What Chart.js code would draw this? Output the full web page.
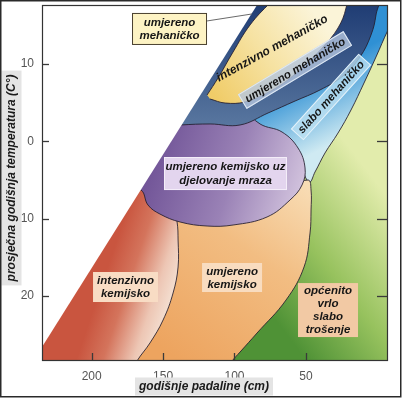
<!DOCTYPE html>
<html><head><meta charset="utf-8">
<script src="https://cdn.jsdelivr.net/npm/chart.js@4/dist/chart.umd.min.js"></script>
<style>html,body{margin:0;padding:0;background:#fff;overflow:hidden}canvas{display:block}</style>
</head><body>
<canvas id="c" width="402" height="398"></canvas>
<script>
const FONT='"Liberation Sans", Arial, Helvetica, sans-serif';
// axes
const X_TICKS=[200,150,100,50];
const Y_TICKS=[-10,0,10,20];
const X_MIN=-7.5, X_MAX=234.8, Y_MIN=-17.63, Y_MAX=28.42;
const X_TITLE='godišnje padaline (cm)';
const Y_TITLE='prosječna godišnja temperatura (C°)';
// regions: [precipitation cm, temperature °C]
const VRLO_SLABO=[[-20,-22],[250,-22],[250,35],[-20,35]];
const SLABO_MEH=[[-15.9,-19.57],[-12.4,-16.08],[-7.5,-14.40],[0.9,-10.91],[9.3,-7.54],[18.4,-4.05],[27.5,-1.07],[36.6,1.51],[43.6,3.97],[47.8,5.27],[57.6,2.42],[124.1,-2.76],[110.1,-19.57]];
const UMJ_KEM=[[105.9,29.59],[101.7,28.42],[96.1,27.26],[84.2,24.80],[63.9,20.53],[51.3,16.26],[47.1,11.86],[46.4,8.89],[46.4,6.30],[48.5,5.01],[68.1,6.30],[180.2,7.59],[264.2,33.47],[180.2,33.47]];
const INT_KEM=[[173.2,30.23],[168.3,28.42],[159.2,26.09],[150.0,23.12],[143.0,19.62],[139.5,16.26],[139.5,12.77],[140.2,10.44],[143.7,7.59],[180.2,5.01],[264.2,30.88]];
const MRAZ=[[180.2,5.65],[165.5,6.30],[160.6,8.24],[152.2,9.41],[138.1,10.44],[119.2,10.96],[101.0,10.83],[77.2,9.79],[61.1,7.59],[52.7,5.65],[50.6,3.45],[55.5,0.87],[66.7,-1.20],[82.1,-2.24],[103.1,-5.34],[159.2,-5.34]];
const UMJ_MEH=[[152.2,-1.85],[137.4,-2.11],[117.1,-2.24],[96.1,-2.11],[76.5,-3.66],[57.6,-5.21],[40.1,-6.64],[24.0,-8.45],[12.1,-10.91],[4.4,-13.75],[0.9,-16.34],[-0.5,-19.57],[124.1,-20.87]];
const INT_MEH=[[117.1,-5.47],[106.6,-4.95],[92.6,-5.08],[78.6,-6.12],[64.6,-7.67],[50.6,-9.87],[38.0,-12.20],[27.5,-14.66],[21.9,-17.25],[21.2,-19.57],[64.6,-19.57],[75.1,-17.89],[89.1,-15.05],[101.0,-11.55],[111.5,-8.19],[119.2,-5.99]];
const OUTSIDE=[[78,-19.45],[245,29.59],[245,-19.45]];

// label annotations (style config)
const NOTES=[
 {text:['umjereno','mehaničko'],at:[145.5,-14.53],box:{w:75,h:32,fill:'#fdf3c4',stroke:'#4a4030'},leader:[87.7,-16.47],lh:13},
 {text:['intenzivno mehaničko'],at:[73.7,-12.07],rot:-29,size:12},
 {text:['umjereno mehaničko'],at:[57.6,-9.22],rot:-31,box:{pad:4,h:17,fill:'rgba(180,198,222,0.8)',stroke:'rgba(225,235,245,0.95)'}},
 {text:['slabo mehaničko'],at:[32.4,-5.73],rot:-48,box:{pad:4,h:17,fill:'rgba(190,225,243,0.75)',stroke:'rgba(230,242,250,0.95)'}},
 {text:['umjereno kemijsko uz','djelovanje mraza'],at:[106.3,4.17],box:{w:123,h:33,fill:'#e3d5ee',stroke:'#f4eef9'},lh:14},
 {text:['intenzivno','kemijsko'],at:[176.3,18.85],box:{w:65,h:30,fill:'#f8dcc4'},lh:13},
 {text:['umjereno','kemijsko'],at:[101.7,17.62],box:{w:60,h:29,fill:'#f8dcc0'},lh:13},
 {text:['općenito','vrlo','slabo','trošenje'],at:[34.5,21.83],box:{w:60,h:54,fill:'#f2c9a4'},lh:13}
];

function toPx(chart,p){return [chart.scales.x.getPixelForValue(p[0]),chart.scales.y.getPixelForValue(p[1])];}
function grad(from,to,stops){
  return (c)=>{const ch=c.chart; if(!ch.chartArea) return stops[0][1];
    const a=toPx(ch,from),b=toPx(ch,to);
    const g=ch.ctx.createLinearGradient(a[0],a[1],b[0],b[1]);
    stops.forEach(s=>g.addColorStop(s[0],s[1])); return g;};
}
const EDGE='rgba(35,28,45,0.85)';
function region(pts,order,bg,opt){
  return Object.assign({data:pts.map(p=>({x:p[0],y:p[1]})),fill:'shape',backgroundColor:bg,
    borderColor:EDGE,borderWidth:1,tension:0.4,pointRadius:0,pointHoverRadius:0,order:order,clip:0},opt||{});
}

const datasets=[
  region(VRLO_SLABO,8,grad([82.1,20.53],[-8.9,7.59],[[0,'#4f9236'],[0.45,'#97c25e'],[1,'#e2ecac']]),{borderWidth:0,tension:0}),
  region(SLABO_MEH,7,grad([54.1,-10.52],[26.1,-0.17],[[0.2,'#2f90d4'],[1,'#cfeaf2']])),
  region(UMJ_KEM,6,grad([138.1,28.42],[50.6,5.65],[[0,'#eda45f'],[0.6,'#f2bd82'],[1,'#f8dcb4']])),
  region(INT_KEM,5,grad([187.2,15.36],[139.5,18.33],[[0,'#c9553f'],[0.35,'#d4745c'],[0.75,'#edc6b4'],[1,'#f4e0d2']])),
  region(MRAZ,4,grad([159.2,1.13],[54.1,7.59],[[0,'#6f5296'],[0.55,'#9a82b6'],[1,'#d3c4de']])),
  region(UMJ_MEH,3,grad([54.1,-18.28],[54.1,-2.11],[[0,'#1d3a72'],[1,'#58769f']])),
  region(INT_MEH,2,grad([113.6,-5.73],[40.1,-15.69],[[0,'#f0cc68'],[0.5,'#f6e2a2'],[1,'#fbf4d8']])),
  region(OUTSIDE,1,'#ffffff',{borderWidth:0,tension:0})
];

function drawNote(ctx,chart,n){
  const [x,y]=toPx(chart,n.at);
  const size=n.size||11.5, lh=n.lh||13;
  ctx.save();
  ctx.font=`italic bold ${size}px ${FONT}`;
  if(n.leader){
    const [lx,ly]=toPx(chart,n.leader);
    ctx.strokeStyle='#6a6a6a'; ctx.lineWidth=1;
    ctx.beginPath(); ctx.moveTo(x+n.box.w/2,y-8); ctx.lineTo(lx,ly); ctx.stroke();
  }
  ctx.translate(x,y);
  if(n.rot) ctx.rotate(n.rot*Math.PI/180);
  if(n.box){
    let w=n.box.w, h=n.box.h;
    if(!w){w=Math.max(...n.text.map(t=>ctx.measureText(t).width))+2*n.box.pad;}
    ctx.fillStyle=n.box.fill; ctx.fillRect(-w/2,-h/2,w,h);
    if(n.box.stroke){ctx.strokeStyle=n.box.stroke; ctx.lineWidth=1; ctx.strokeRect(-w/2+0.5,-h/2+0.5,w-1,h-1);}
  }
  ctx.fillStyle='#161616'; ctx.textAlign='center'; ctx.textBaseline='middle';
  const n0=n.text.length;
  n.text.forEach((t,i)=>ctx.fillText(t,0,(i-(n0-1)/2)*lh+0.5));
  ctx.restore();
}

const deco={
  id:'deco',
  afterDatasetsDraw(chart){
    const {ctx,chartArea:a,scales:{x,y}}=chart;
    ctx.save();
    ctx.strokeStyle='#3a3a3a'; ctx.lineWidth=1.3;
    const L=(x0,y0,x1,y1)=>{ctx.beginPath();ctx.moveTo(x0,y0);ctx.lineTo(x1,y1);ctx.stroke();};
    Y_TICKS.forEach(v=>{const p=Math.round(y.getPixelForValue(v))+0.5; L(a.left,p,a.left+7,p); L(a.right-11,p,a.right,p);});
    X_TICKS.forEach(v=>{const p=Math.round(x.getPixelForValue(v))+0.5; L(p,a.bottom,p,a.bottom-8);});
    ctx.strokeStyle='#333'; ctx.lineWidth=1.2;
    ctx.strokeRect(a.left+0.5,a.top+0.5,a.right-a.left-1,a.bottom-a.top-1);
    ctx.restore();
    NOTES.forEach(n=>drawNote(ctx,chart,n));
  },
  afterDraw(chart){
    const {ctx,chartArea:a}=chart;
    ctx.save();
    ctx.font=`italic bold 12px ${FONT}`;
    ctx.textAlign='center'; ctx.textBaseline='middle';
    let w=ctx.measureText(X_TITLE).width;
    const cx=a.left+162, cy=a.bottom+25.5;
    ctx.fillStyle='#e4e4e4'; ctx.fillRect(cx-w/2-4,cy-9,w+8,18);
    ctx.fillStyle='#1a1a1a'; ctx.fillText(X_TITLE,cx,cy+0.5);
    w=ctx.measureText(Y_TITLE).width;
    ctx.translate(11.5,178); ctx.rotate(-Math.PI/2);
    ctx.fillStyle='#e4e4e4'; ctx.fillRect(-w/2-4,-10,w+8,20);
    ctx.fillStyle='#1a1a1a'; ctx.fillText(Y_TITLE,0,0.5);
    ctx.restore();
    ctx.save(); ctx.strokeStyle='#2a2a2a'; ctx.lineWidth=1.5;
    ctx.strokeRect(0.75,0.75,400,396); ctx.restore();
  }
};

function noPad(s){s.paddingTop=0;s.paddingBottom=0;s.paddingLeft=0;s.paddingRight=0;}

new Chart(document.getElementById('c'),{
  type:'line',
  data:{datasets},
  options:{
    responsive:false, animation:false, devicePixelRatio:1,
    layout:{padding:{top:5,right:14,left:0,bottom:0}},
    elements:{line:{capBezierPoints:false}},
    plugins:{legend:{display:false},tooltip:{enabled:false}},
    events:[],
    scales:{
      x:{type:'linear',reverse:true,min:X_MIN,max:X_MAX,position:'bottom',
        grid:{display:false,drawTicks:false},border:{display:false},
        afterFit(s){s.height=37;noPad(s);},
        afterBuildTicks(s){s.ticks=X_TICKS.map(v=>({value:v}));},
        ticks:{font:{family:FONT,size:12},color:'#555',padding:8,maxRotation:0,autoSkip:false}},
      y:{type:'linear',reverse:true,min:Y_MIN,max:Y_MAX,position:'left',
        grid:{display:false,drawTicks:false},border:{display:false},
        afterFit(s){s.width=42;noPad(s);},
        afterBuildTicks(s){s.ticks=Y_TICKS.map(v=>({value:v}));},
        ticks:{font:{family:FONT,size:12},color:'#555',padding:8,autoSkip:false,callback:v=>String(Math.abs(v))}}
    }
  },
  plugins:[deco]
});
</script>
</body></html>
